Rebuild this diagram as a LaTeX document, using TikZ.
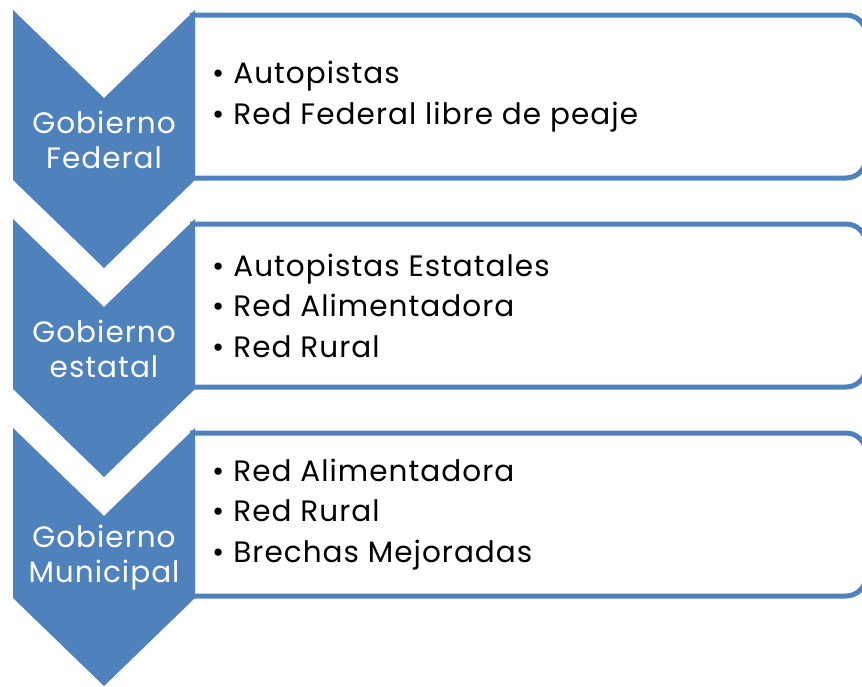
\documentclass[tikz,border=0pt]{standalone}
\usepackage{fontspec}
\setmainfont[LetterSpace=3.5]{Poppins}
\definecolor{ofblue}{HTML}{4F81BD}
\begin{document}
\begin{tikzpicture}[x=1pt,y=-1pt,
  chev/.style={fill=ofblue,draw=none},
  listbox/.style={draw=ofblue,line width=5pt,rounded corners=20pt},
  chevtext/.style={text=white,align=center,font=\fontsize{29.5}{35}\selectfont,inner sep=0pt},
  listtext/.style={text=black,align=left,anchor=west,font=\fontsize{29.5}{40.5}\selectfont,inner sep=0pt}]
\useasboundingbox (0,0) rectangle (862,686);
\clip (0,0) rectangle (862,686);
\foreach \T/\nm in {10/a,219/b,428/c}{
  \draw[listbox] (190,\T+5) -- (866,\T+5) -- (866,\T+168) -- (190,\T+168);
  \fill[chev] (13,\T) -- (104,\T+88) -- (195,\T) -- (195,\T+170) -- (104,\T+258) -- (13,\T+170) -- cycle;
}
\node[chevtext] (g1) at (104,140) {Gobierno\\Federal};
\node[chevtext] (g2) at (104,349) {Gobierno\\estatal};
\node[chevtext] (g3) at (104,558) {Gobierno\\Municipal};
\newcommand{\bul}{•\hspace{9pt}}
\node[listtext] (l1) at (212,96.5) {\bul Autopistas\\\bul Red Federal libre de peaje};
\node[listtext] (l2) at (212,305.5) {\bul Autopistas Estatales\\\bul Red Alimentadora\\\bul Red Rural};
\node[listtext] (l3) at (212,514.5) {\bul Red Alimentadora\\\bul Red Rural\\\bul Brechas Mejoradas};
\end{tikzpicture}
\end{document}
